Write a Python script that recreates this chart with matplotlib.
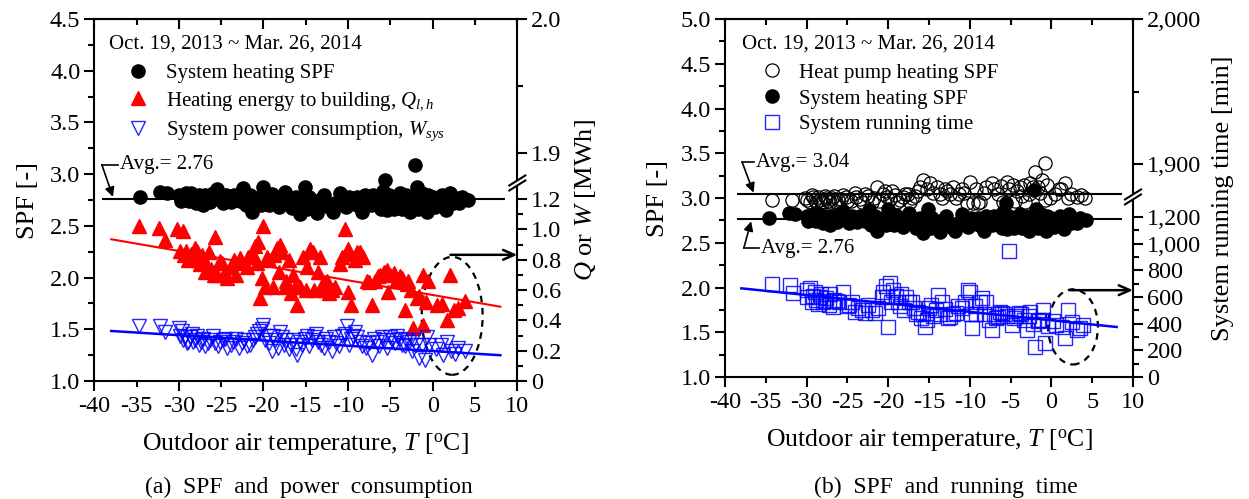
import matplotlib
matplotlib.use('Agg')
import matplotlib.pyplot as plt
from matplotlib.patches import Ellipse, Rectangle
from matplotlib.ticker import MultipleLocator, FixedLocator, FixedFormatter, FormatStrFormatter
import numpy as np

plt.rcParams.update({
    'font.family': 'Liberation Serif',
    'mathtext.fontset': 'custom',
    'mathtext.rm': 'Liberation Serif',
    'mathtext.it': 'Liberation Serif:italic',
    'mathtext.bf': 'Liberation Serif:bold',
    'axes.linewidth': 1.5,
})

# ---- data ---------------------------------------------------------------
# system heating SPF (shared by both panels)
sys_T = [-34.6, -32.2, -31.4, -30.0, -29.6, -29.2, -28.8, -28.4, -28.0, -27.6,
         -27.1, -26.6, -26.0, -25.5, -25.0, -24.4, -23.8, -23.2, -22.4, -21.9,
         -21.4, -20.8, -20.0, -19.6, -19.0, -18.5, -18.0, -17.5, -16.9, -16.6,
         -16.1, -15.7, -15.1, -14.8, -14.3, -13.7, -13.2, -12.6, -11.8, -11.0,
         -10.5, -9.9, -9.0, -8.6, -8.3, -7.6, -7.0, -6.4, -5.9, -5.6,
         -5.4, -4.9, -4.4, -3.9, -3.4, -2.9, -2.7, -2.3, -2.1, -1.9,
         -1.5, -1.1, -0.7, -0.3, 0.0, 0.6, 1.1, 1.6, 2.1, 2.8, 3.5, 4.2,
         -29.8, -29.0, -28.6, -27.9, -27.3, -26.9, -26.3, -25.8, -24.8, -24.1,
         -23.5, -22.8, -22.1, -21.6, -20.5, -20.3, -19.3, -18.8, -18.2, -17.8,
         -17.2, -16.3, -15.4, -14.6, -14.0, -13.5, -12.9, -12.3, -11.5, -10.8,
         -10.2, -9.5, -8.9, -8.0, -7.3, -6.8, -6.1, -5.2, -4.6, -4.1,
         -3.6, -3.1, -2.5, -1.7, -1.3, -0.9, -0.5, 0.3, 0.9, 1.4, 2.4, 3.1]
sys_spf = [2.78, 2.83, 2.82, 2.80, 2.76, 2.82, 2.74, 2.79, 2.72, 2.80,
           2.70, 2.78, 2.82, 2.86, 2.76, 2.80, 2.73, 2.78, 2.87, 2.78,
           2.63, 2.74, 2.88, 2.76, 2.81, 2.73, 2.78, 2.83, 2.72, 2.67,
           2.78, 2.61, 2.88, 2.66, 2.73, 2.62, 2.76, 2.72, 2.63, 2.82,
           2.73, 2.78, 2.78, 2.72, 2.63, 2.76, 2.80, 2.70, 2.84, 2.94,
           2.65, 2.76, 2.70, 2.82, 2.72, 2.78, 2.63, 2.70, 3.09, 2.88,
           2.76, 2.68, 2.63, 2.72, 2.78, 2.74, 2.80, 2.65, 2.82, 2.77, 2.78, 2.75,
           2.74, 2.78, 2.82, 2.76, 2.74, 2.80, 2.73, 2.78, 2.72, 2.76,
           2.80, 2.74, 2.70, 2.80, 2.78, 2.70, 2.70, 2.77, 2.68, 2.74,
           2.79, 2.70, 2.70, 2.78, 2.68, 2.72, 2.80, 2.68, 2.72, 2.76,
           2.68, 2.72, 2.70, 2.80, 2.70, 2.74, 2.66, 2.80, 2.66, 2.77,
           2.66, 2.80, 2.76, 2.66, 2.82, 2.74, 2.80, 2.68, 2.70, 2.76, 2.72, 2.72]

# heating energy to building Q [MWh]
q_T = [-34.7, -32.4, -31.7, -30.2, -29.5, -29.2, -28.6, -28.1, -27.7, -27.3,
       -26.9, -26.4, -25.7, -25.5, -24.9, -24.3, -23.5, -22.8, -22.0, -21.0,
       -20.6, -20.4, -20.0, -19.6, -18.9, -18.4, -18.0, -17.5, -17.0, -16.5,
       -16.0, -15.7, -15.3, -14.5, -14.2, -13.6, -13.1, -12.5, -11.9, -11.0,
       -10.4, -10.0, -10.0, -9.6, -8.6, -8.2, -7.8, -7.2, -6.5, -5.4,
       -5.3, -4.6, -3.9, -3.3, -2.9, -2.3, -1.9, -1.2, -1.1, -0.5,
       1.1, 1.7, 2.0, 3.0, 3.8,
       -29.9, -29.4, -28.9, -28.3, -27.9, -27.5, -27.0, -26.2, -25.9, -25.2,
       -24.6, -23.9, -23.2, -22.5, -21.8, -21.3, -20.8, -20.2, -19.8, -19.3,
       -18.7, -18.2, -17.8, -17.3, -16.8, -16.3, -15.0, -14.8, -14.0, -13.3,
       -12.8, -12.2, -11.5, -10.7, -9.8, -9.2, -8.9, -7.5, -6.8, -6.2,
       -5.8, -5.0, -4.3, -3.6, -3.0, -2.6, -1.6, -0.8, 0.5, 2.5]
q_val = [1.02, 1.01, 0.93, 1.00, 0.99, 0.86, 0.84, 0.88, 0.80, 0.83,
         0.72, 0.85, 0.95, 0.70, 0.78, 0.68, 0.80, 0.81, 0.75, 0.89,
         0.92, 0.55, 1.02, 0.82, 0.62, 0.88, 0.90, 0.62, 0.80, 0.70,
         0.50, 0.62, 0.82, 0.87, 0.85, 0.72, 0.63, 0.66, 0.60, 0.77,
         1.00, 0.87, 0.59, 0.50, 0.85, 0.82, 0.66, 0.50, 0.69, 0.73,
         0.59, 0.71, 0.69, 0.47, 0.66, 0.35, 0.55, 0.70, 0.37, 0.66,
         0.51, 0.40, 0.70, 0.48, 0.53,
         0.86, 0.83, 0.80, 0.82, 0.86, 0.77, 0.80, 0.74, 0.70, 0.79,
         0.72, 0.75, 0.70, 0.78, 0.82, 0.84, 0.78, 0.68, 0.62, 0.80,
         0.83, 0.72, 0.85, 0.66, 0.58, 0.62, 0.60, 0.75, 0.60, 0.82,
         0.60, 0.58, 0.62, 0.82, 0.84, 0.80, 0.85, 0.65, 0.66, 0.70,
         0.72, 0.70, 0.66, 0.68, 0.64, 0.60, 0.56, 0.52, 0.50, 0.47]

# system power consumption W [MWh]
w_T = [-34.7, -32.2, -31.6, -30.0, -29.6, -29.3, -28.9, -28.5, -28.1, -27.6,
       -27.1, -26.6, -26.0, -25.4, -24.8, -24.3, -23.6, -22.9, -22.3, -21.6,
       -21.0, -20.5, -20.0, -19.6, -19.0, -18.6, -18.1, -17.6, -17.0, -16.5,
       -16.0, -15.4, -14.8, -14.3, -13.8, -13.2, -12.6, -11.9, -11.4, -10.7,
       -10.1, -9.7, -9.2, -8.6, -7.9, -7.2, -6.6, -6.0, -5.4, -4.8,
       -4.2, -3.6, -3.1, -2.5, -2.0, -1.6, -0.9, -0.7, 0.4, 1.2,
       1.7, 2.2, 3.0, 3.8,
       -29.9, -29.5, -29.1, -28.7, -28.3, -27.9, -27.4, -26.9, -26.3, -25.7,
       -25.1, -24.5, -23.9, -23.3, -22.6, -22.0, -21.3, -20.8, -20.2, -19.8,
       -19.3, -18.9, -18.3, -17.8, -17.3, -16.8, -16.2, -15.7, -15.1, -14.6,
       -14.0, -13.5, -12.9, -12.3, -11.7, -11.1, -10.4, -9.9, -9.4, -8.9,
       -8.3, -7.5, -6.9, -6.3, -5.7, -5.1, -4.5, -3.9, -3.3, -2.8,
       -2.3, -1.3, -0.4, 1.0, 2.6]
w_val = [0.36, 0.36, 0.32, 0.35, 0.33, 0.29, 0.26, 0.31, 0.27, 0.24,
         0.28, 0.25, 0.30, 0.23, 0.27, 0.22, 0.26, 0.22, 0.27, 0.24,
         0.29, 0.33, 0.37, 0.30, 0.20, 0.27, 0.32, 0.24, 0.21, 0.27,
         0.17, 0.24, 0.30, 0.27, 0.31, 0.24, 0.28, 0.20, 0.25, 0.30,
         0.36, 0.28, 0.32, 0.26, 0.22, 0.17, 0.26, 0.29, 0.22, 0.27,
         0.30, 0.24, 0.27, 0.20, 0.24, 0.15, 0.14, 0.29, 0.21, 0.17,
         0.26, 0.20, 0.22, 0.20,
         0.30, 0.27, 0.25, 0.29, 0.26, 0.30, 0.26, 0.23, 0.27, 0.25,
         0.26, 0.28, 0.24, 0.28, 0.25, 0.23, 0.27, 0.31, 0.34, 0.27,
         0.25, 0.30, 0.22, 0.29, 0.27, 0.24, 0.21, 0.26, 0.28, 0.23,
         0.29, 0.26, 0.22, 0.26, 0.29, 0.23, 0.31, 0.24, 0.30, 0.29,
         0.23, 0.25, 0.28, 0.23, 0.27, 0.29, 0.25, 0.28, 0.23, 0.26,
         0.27, 0.24, 0.24, 0.24, 0.18]

# heat pump heating SPF
hp_T = [-34.2, -31.8, -30.2, -29.6, -29.2, -28.8, -28.4, -28.0, -27.6, -27.1,
        -26.6, -26.1, -25.5, -25.0, -24.1, -23.5, -22.8, -22.0, -21.4, -20.6,
        -20.1, -19.5, -18.9, -18.2, -17.6, -17.1, -16.4, -15.7, -14.9, -14.0,
        -13.4, -12.8, -12.0, -11.3, -10.4, -10.0, -9.6, -9.0, -8.3, -7.3,
        -6.6, -5.9, -5.5, -4.7, -4.2, -3.6, -3.2, -2.6, -2.3, -2.0,
        -1.4, -0.8, -0.5, -0.8, 0.4, 1.2, 1.7, 2.0, 3.1, 4.1,
        -29.9, -29.4, -29.0, -28.6, -28.2, -27.8, -27.4, -26.9, -26.4, -25.8,
        -25.2, -24.6, -23.9, -23.2, -22.5, -21.8, -21.1, -20.4, -19.8, -19.2,
        -18.6, -17.9, -17.3, -16.7, -16.1, -15.3, -14.5, -13.7, -13.1, -12.4,
        -11.7, -11.0, -10.7, -9.3, -8.7, -8.0, -7.0, -6.2, -5.2, -4.5,
        -3.9, -3.4, -2.8, -1.7, -1.1, -0.2, 0.9, 2.4, 3.6]
hp_spf = [2.98, 2.98, 3.00, 2.96, 3.01, 2.95, 2.98, 2.96, 3.00, 2.95,
          3.02, 2.98, 3.03, 2.97, 3.06, 2.99, 3.04, 2.95, 3.12, 3.04,
          3.01, 3.08, 2.96, 3.01, 3.05, 3.00, 3.08, 3.20, 3.17, 3.12,
          3.00, 3.08, 3.12, 3.04, 2.94, 3.18, 2.94, 2.94, 3.06, 3.17,
          3.05, 2.96, 3.18, 3.15, 3.08, 3.02, 2.96, 3.17, 3.12, 3.29,
          3.06, 3.39, 3.15, 2.98, 3.05, 3.10, 3.17, 3.00, 3.01, 3.00,
          2.98, 3.03, 2.98, 3.01, 2.95, 3.02, 2.97, 3.00, 2.95, 2.99,
          3.01, 2.97, 3.01, 2.96, 3.02, 3.00, 2.97, 3.08, 2.99, 3.03,
          2.98, 3.04, 2.96, 3.02, 3.12, 3.10, 3.06, 3.05, 3.10, 3.05,
          3.00, 3.10, 3.06, 3.10, 2.96, 3.12, 3.10, 3.13, 3.10, 2.97,
          3.12, 3.15, 3.05, 3.12, 3.20, 3.00, 3.10, 3.05, 3.03]

# system running time [min]
rt_T = [-34.3, -32.0, -31.7, -30.0, -29.6, -29.2, -28.8, -28.4, -28.0, -27.6,
        -27.1, -26.8, -26.3, -25.5, -24.8, -24.1, -23.2, -22.5, -21.6, -20.8,
        -20.3, -19.8, -20.0, -19.4, -18.8, -18.4, -17.8, -17.1, -16.6, -16.0,
        -15.5, -15.0, -14.5, -13.9, -13.4, -12.7, -12.0, -11.4, -10.2, -10.0,
        -9.7, -9.2, -8.5, -8.0, -7.3, -6.8, -6.3, -5.7, -5.2, -4.8,
        -4.3, -3.7, -3.0, -2.6, -2.0, -1.5, -1.0, -0.8, 0.2, 1.3,
        1.7, 2.0, 3.1, 3.9,
        -29.9, -29.4, -29.0, -28.6, -28.2, -27.8, -27.3, -26.6, -26.0, -25.1,
        -24.4, -23.7, -22.9, -22.0, -21.2, -20.6, -20.1, -19.6, -19.1, -18.6,
        -18.1, -17.5, -16.8, -16.3, -15.7, -15.2, -14.7, -14.2, -13.6, -13.0,
        -12.4, -11.7, -11.0, -10.6, -9.9, -9.4, -8.8, -8.2, -7.6, -7.0,
        -6.5, -6.0, -5.5, -4.6, -4.0, -3.4, -2.8, -2.3, -1.7, -1.2,
        -0.4, 0.6, 2.5, 3.5]
rt_val = [700, 690, 630, 650, 670, 610, 580, 600, 560, 590,
          620, 525, 570, 635, 540, 490, 500, 540, 480, 600,
          680, 705, 375, 650, 560, 620, 600, 560, 470, 440,
          375, 520, 460, 615, 560, 440, 470, 530, 650, 640,
          370, 470, 590, 560, 355, 440, 490, 470, 946, 390,
          460, 470, 355, 490, 228, 430, 503, 255, 420, 375,
          293, 503, 355, 390,
          600, 560, 640, 545, 620, 570, 540, 580, 560, 530,
          560, 520, 480, 500, 520, 640, 600, 560, 610, 530,
          500, 560, 520, 490, 470, 430, 540, 500, 470, 510,
          450, 480, 520, 560, 470, 530, 560, 470, 430, 470,
          450, 480, 460, 440, 480, 430, 460, 400, 420, 430,
          380, 390, 410, 370]

# linear trends (end points)
trend_T = [-38.0, 8.0]
q_trend = [0.935, 0.49]
w_trend = [0.33, 0.17]
rt_trend = [665, 375]

avg_sys = 2.76
avg_hp = 3.04

# ---- figure --------------------------------------------------------------
fig = plt.figure(figsize=(12.49, 4.99), dpi=100)
axA = fig.add_axes([0.07550, 0.23647, 0.33867, 0.72545])
axB = fig.add_axes([0.58047, 0.24449, 0.32666, 0.71743])


def piecewise(real, mapped):
    real = np.asarray(real, float)
    mapped = np.asarray(mapped, float)
    return (lambda v: np.interp(v, real, mapped),
            lambda v: np.interp(v, mapped, real))


def style_main(ax, ymin, ymax):
    ax.set_xlim(-40, 10)
    ax.set_ylim(ymin, ymax)
    ax.xaxis.set_major_locator(MultipleLocator(10))
    ax.xaxis.set_minor_locator(MultipleLocator(5))
    ax.xaxis.set_major_formatter(FormatStrFormatter('%d'))
    ax.xaxis.set_minor_formatter(FormatStrFormatter('%d'))
    ax.yaxis.set_major_locator(MultipleLocator(0.5))
    ax.yaxis.set_minor_locator(MultipleLocator(0.25))
    ax.yaxis.set_major_formatter(FormatStrFormatter('%.1f'))
    ax.tick_params(axis='x', which='major', direction='out', length=7, width=1.5,
                   pad=4, labelsize=17.5)
    ax.tick_params(axis='x', which='minor', direction='out', length=4, width=1.5,
                   pad=7, labelsize=17.5)
    ax.tick_params(axis='y', which='major', direction='out', length=7, width=1.5,
                   pad=3, labelsize=17.5)
    ax.tick_params(axis='y', which='minor', direction='out', length=4, width=1.5)
    ax.spines['right'].set_visible(False)
    top = ax.secondary_xaxis('top')
    top.xaxis.set_major_locator(MultipleLocator(10))
    top.xaxis.set_minor_locator(MultipleLocator(5))
    top.tick_params(which='major', direction='in', length=7, width=1.5, labeltop=False)
    top.tick_params(which='minor', direction='in', length=4, width=1.5)
    top.spines['top'].set_linewidth(1.5)
    ax.set_xlabel('Outdoor air temperature, $T$ [$^{\\rm o}$C]', fontsize=18.5, labelpad=10)
    ax.set_ylabel('SPF [-]', fontsize=19, labelpad=8)


def style_twin(ax2, major, labels, minor):
    ax2.yaxis.set_major_locator(FixedLocator(major))
    ax2.yaxis.set_major_formatter(FixedFormatter(labels))
    ax2.yaxis.set_minor_locator(FixedLocator(minor))
    ax2.tick_params(axis='y', which='major', direction='out', length=7, width=1.5,
                    pad=3, labelsize=17.5)
    ax2.tick_params(axis='y', which='minor', direction='out', length=4, width=1.5)
    for s in ('left', 'top', 'bottom'):
        ax2.spines[s].set_visible(False)


def draw_break(ax2, yf):
    bbox = ax2.get_window_extent()
    w, h = bbox.width, bbox.height
    dx, dy, gap = 8 / w, 5 / h, 5 / h
    ax2.add_patch(Rectangle((1 - 3 / w, yf - gap / 2), 6 / w, gap, transform=ax2.transAxes,
                            facecolor='white', edgecolor='none', clip_on=False, zorder=10))
    for off in (-gap / 2, gap / 2):
        ax2.plot([1 - dx, 1 + dx], [yf + off - dy, yf + off + dy], color='k', lw=1.5,
                 transform=ax2.transAxes, clip_on=False, zorder=11)


def avg_note(ax, text, tx, ty, kx, tipx, tipy):
    ax.plot([kx, tx - 0.2], [ty, ty], color='k', lw=1.2)
    ax.annotate('', xy=(tipx, tipy), xytext=(kx, ty),
                arrowprops=dict(arrowstyle='-|>', color='k', lw=1.2,
                                mutation_scale=14, shrinkA=0, shrinkB=0))
    ax.text(tx, ty, text, ha='left', va='center', fontsize=15)


# ---- panel (a) -----------------------------------------------------------
style_main(axA, 1.0, 4.5)
fwdA, invA = piecewise([-10, 1.2, 1.9, 2.0, 12],
                       [-10, 1.2, 1.504, 2.388, 2.388 + 10 * 8.84])
axA2 = axA.twinx()
axA2.set_yscale('function', functions=(fwdA, invA))

h_sys, = axA.plot(sys_T, sys_spf, 'o', color='k', ms=9.5, mec='k',
                  label='System heating SPF')
axA.hlines(avg_sys, -39.1, 8.6, color='k', lw=1.5)
avg_note(axA, 'Avg.= 2.76', -37.0, 3.09, -39.1, -37.8, 2.78)

h_q, = axA2.plot(q_T, q_val, '^', color='#ff0000', ms=10, mec='#ff0000',
                 label='Heating energy to building, $Q_{l,h}$')
h_w, = axA2.plot(w_T, w_val, 'v', mfc='none', mec='#0000ff', ms=10.5, mew=1.0,
                 alpha=0.85, label='System power consumption, $W_{sys}$')
axA2.plot(trend_T, q_trend, '-', color='#ff0000', lw=1.5)
axA2.plot(trend_T, w_trend, '-', color='#0000ff', lw=1.8)
axA2.set_ylim(0, 2.0)
style_twin(axA2, [0, 0.2, 0.4, 0.6, 0.8, 1.0, 1.2, 1.9, 2.0],
           ['0', '0.2', '0.4', '0.6', '0.8', '1.0', '1.2', '1.9', '2.0'],
           [0.1, 0.3, 0.5, 0.7, 0.9, 1.1, 1.95])
axA2.set_ylabel('$Q$ or $W$ [MWh]', fontsize=19, labelpad=8)

axA.add_patch(Ellipse((2.3, 1.63), 7.2, 1.14, fill=False, ec='k', lw=1.6,
                      ls=(0, (3, 2.5))))
axA.annotate('', xy=(10, 2.22), xytext=(2.1, 2.22), annotation_clip=False,
             arrowprops=dict(arrowstyle='->,head_length=0.8,head_width=0.35',
                             color='k', lw=1.8, shrinkA=0, shrinkB=0))

axA.text(0.035, 0.931, 'Oct. 19, 2013 ~ Mar. 26, 2014', transform=axA.transAxes,
         ha='left', va='center', fontsize=15)
axA2.legend(handles=[h_sys, h_q, h_w], loc='upper left', bbox_to_anchor=(0.06, 0.90),
            frameon=False, fontsize=15, handletextpad=0.8, labelspacing=0.35,
            borderaxespad=0, handlelength=1.0)

# ---- panel (b) -----------------------------------------------------------
style_main(axB, 1.0, 5.0)
fwdB, invB = piecewise([-10000, 1200, 1900, 2000, 20000],
                       [-10000, 1200, 1597.5, 2685, 2685 + 18000 * 10.875])
axB2 = axB.twinx()
axB2.set_yscale('function', functions=(fwdB, invB))

h_hp, = axB.plot(hp_T, hp_spf, 'o', mfc='none', mec='k', ms=9.5, mew=0.9,
                 label='Heat pump heating SPF')
h_sys2, = axB.plot(sys_T, sys_spf, 'o', color='k', ms=9.5, label='System heating SPF')
axB.hlines([avg_hp, avg_sys], -38.5, 8.6, color='k', lw=1.5)
avg_note(axB, 'Avg.= 3.04', -36.2, 3.40, -37.9, -36.5, 3.06)
avg_note(axB, 'Avg.= 2.76', -35.6, 2.44, -37.7, -36.8, 2.74)

h_rt, = axB2.plot(rt_T, rt_val, 's', mfc='none', mec='#0000ff', ms=9.5, mew=1.0,
                  alpha=0.85, label='System running time')
axB2.plot(trend_T, rt_trend, '-', color='#0000ff', lw=1.8)
axB2.set_ylim(0, 2000)
style_twin(axB2, [0, 200, 400, 600, 800, 1000, 1200, 1900, 2000],
           ['0', '200', '400', '600', '800', '1,000', '1,200', '1,900', '2,000'],
           [100, 300, 500, 700, 900, 1100, 1950])
axB2.set_ylabel('System running time [min]', fontsize=19, labelpad=8)

axB.add_patch(Ellipse((2.65, 1.56), 6.1, 0.84, fill=False, ec='k', lw=1.6,
                      ls=(0, (3, 2.5))))
axB.annotate('', xy=(10, 1.97), xytext=(2.3, 1.97), annotation_clip=False,
             arrowprops=dict(arrowstyle='->,head_length=0.8,head_width=0.35',
                             color='k', lw=1.8, shrinkA=0, shrinkB=0))

axB.text(0.042, 0.930, 'Oct. 19, 2013 ~ Mar. 26, 2014', transform=axB.transAxes,
         ha='left', va='center', fontsize=15)
axB2.legend(handles=[h_hp, h_sys2, h_rt], loc='upper left', bbox_to_anchor=(0.07, 0.90),
            frameon=False, fontsize=15, handletextpad=0.8, labelspacing=0.3,
            borderaxespad=0, handlelength=1.0)

draw_break(axA2, 0.547)
draw_break(axB2, 0.503)

fig.text(0.247, 0.024, '(a)  SPF  and  power  consumption', ha='center', va='center',
         fontsize=17)
fig.text(0.757, 0.024, '(b)  SPF  and  running  time', ha='center', va='center',
         fontsize=17)

fig.savefig('out.png', dpi=100, facecolor='white')
